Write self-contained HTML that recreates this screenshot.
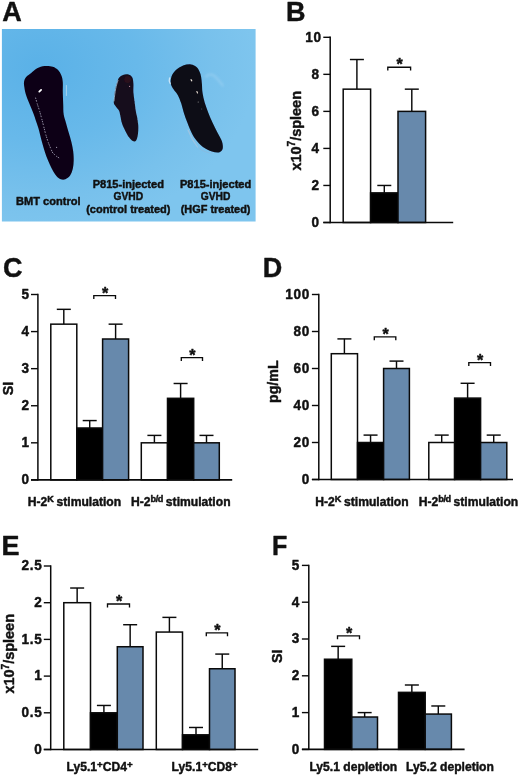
<!DOCTYPE html>
<html><head><meta charset="utf-8"><title>Figure</title>
<style>
html,body{margin:0;padding:0;background:#fff;}
svg{display:block;}
text{font-family:"Liberation Sans", Arial, Helvetica, sans-serif;font-weight:bold;fill:#111;stroke:#111;stroke-width:0.45px;stroke-linejoin:round;}
</style></head><body>
<svg width="520" height="776" viewBox="0 0 520 776">
<defs>
<radialGradient id="bg" cx="0.15" cy="0.2" r="0.85">
<stop offset="0" stop-color="#5ab1e7"/><stop offset="0.45" stop-color="#68b9ea"/><stop offset="0.8" stop-color="#78c1ec"/><stop offset="1" stop-color="#7ec5ee"/>
</radialGradient>
<filter id="soft" x="-10%" y="-10%" width="120%" height="120%"><feGaussianBlur stdDeviation="0.7"/></filter>
<filter id="soft2" x="-30%" y="-30%" width="160%" height="160%"><feGaussianBlur stdDeviation="1.2"/></filter>
</defs>
<rect width="520" height="776" fill="#fff"/>

<text transform="translate(2.20,21.20) scale(1,1)" font-size="27" text-anchor="start" stroke-width="0.15">A</text>
<text transform="translate(286.00,21.20) scale(1,1)" font-size="27" text-anchor="start" stroke-width="0.15">B</text>
<text transform="translate(3.00,277.00) scale(1,1)" font-size="27" text-anchor="start" stroke-width="0.15">C</text>
<text transform="translate(262.80,277.20) scale(1,1)" font-size="27" text-anchor="start" stroke-width="0.15">D</text>
<text transform="translate(1.50,555.00) scale(1,1)" font-size="27" text-anchor="start" stroke-width="0.15">E</text>
<text transform="translate(272.00,555.30) scale(0.93,1)" font-size="27" text-anchor="start" stroke-width="0.15">F</text>
<rect x="1.9" y="29" width="253.7" height="192.5" fill="url(#bg)"/>
<g filter="url(#soft)">
<path d="M24.2,80.9 C24.6,79.3 25.2,78.1 26.4,76.8 C27.6,75.5 29.4,74.4 31.2,73.0 C33.0,71.6 35.0,69.5 37.2,68.3 C39.4,67.1 42.0,66.4 44.6,66.1 C47.2,65.8 50.5,66.0 52.7,66.7 C55.0,67.4 56.7,68.6 58.1,70.1 C59.5,71.6 60.6,73.5 61.4,75.5 C62.2,77.5 62.6,79.3 62.8,82.2 C63.0,85.1 62.7,89.4 62.8,93.0 C62.9,96.6 63.1,100.2 63.2,103.8 C63.4,107.4 63.2,111.3 63.7,114.5 C64.2,117.7 65.2,120.0 66.0,123.0 C66.8,126.0 67.8,129.3 68.7,132.5 C69.6,135.7 70.7,138.8 71.4,141.9 C72.2,145.0 72.8,148.2 73.2,151.3 C73.6,154.5 73.8,157.9 73.7,160.8 C73.6,163.7 73.4,166.3 72.8,168.8 C72.2,171.3 71.3,173.8 70.1,175.6 C68.9,177.3 67.0,178.7 65.4,179.3 C63.8,179.9 62.2,179.8 60.7,179.3 C59.2,178.8 57.8,177.5 56.6,176.2 C55.4,174.9 54.4,173.4 53.3,171.5 C52.2,169.6 51.0,167.3 49.9,164.8 C48.8,162.3 47.5,159.4 46.5,156.7 C45.5,154.0 44.7,151.5 43.8,148.6 C42.9,145.7 42.1,142.5 41.2,139.2 C40.3,135.8 39.4,131.6 38.5,128.5 C37.6,125.4 36.6,122.7 35.8,120.4 C35.0,118.1 34.6,116.6 33.8,114.5 C33.0,112.4 32.1,110.2 31.2,108.0 C30.3,105.8 29.4,103.8 28.5,101.5 C27.6,99.2 26.5,96.8 25.8,94.3 C25.1,91.8 24.5,88.5 24.2,86.3 C23.9,84.1 23.8,82.5 24.2,80.9 Z" fill="#0c0614"/>
<path d="M123.0,74.9 C124.5,74.4 127.0,74.1 128.5,74.6 C130.1,75.0 131.5,76.1 132.3,77.6 C133.1,79.1 133.2,81.1 133.4,83.6 C133.6,86.1 133.2,89.5 133.4,92.4 C133.6,95.3 134.1,98.2 134.5,101.1 C134.9,104.0 135.2,107.2 135.6,109.9 C136.0,112.7 136.8,114.9 137.2,117.6 C137.6,120.3 138.2,123.4 138.3,126.3 C138.4,129.2 138.2,132.7 137.8,135.1 C137.4,137.5 136.9,139.6 136.1,140.6 C135.3,141.6 134.1,141.6 132.9,141.1 C131.7,140.6 130.3,139.0 129.0,137.3 C127.7,135.6 126.4,133.1 125.2,130.7 C124.0,128.3 122.7,125.5 121.9,123.0 C121.1,120.5 120.8,117.4 120.3,115.4 C119.8,113.4 119.8,112.4 119.2,111.0 C118.6,109.6 117.3,108.5 116.4,107.2 C115.5,105.9 114.3,105.0 113.9,103.3 C113.5,101.6 114.0,99.2 114.2,96.8 C114.4,94.4 114.8,91.5 115.3,89.1 C115.8,86.7 116.3,84.4 117.0,82.5 C117.7,80.6 118.2,78.9 119.2,77.6 C120.2,76.3 121.5,75.4 123.0,74.9 Z" fill="#170a1a"/>
<path d="M171.5,76.6 C172.3,74.3 174.0,72.0 175.9,70.1 C177.8,68.2 180.6,66.4 183.1,65.4 C185.6,64.5 188.7,64.1 191.0,64.4 C193.3,64.7 195.2,65.7 196.8,67.3 C198.4,68.9 199.6,71.3 200.4,73.8 C201.2,76.3 201.5,79.3 201.8,82.4 C202.2,85.5 202.0,89.1 202.5,92.5 C203.0,95.9 203.7,99.2 204.7,102.6 C205.7,106.0 207.0,109.3 208.3,112.7 C209.6,116.1 211.0,119.4 212.6,122.8 C214.2,126.2 216.1,129.8 217.7,132.9 C219.3,136.0 221.2,138.8 222.0,141.5 C222.8,144.2 223.2,147.0 222.7,148.8 C222.2,150.6 220.9,151.9 219.1,152.4 C217.3,152.9 214.5,152.4 211.9,151.6 C209.3,150.8 205.9,149.2 203.3,147.3 C200.7,145.4 198.2,142.8 196.1,140.1 C194.0,137.4 192.4,134.3 191.0,131.4 C189.6,128.5 188.6,125.9 187.4,122.8 C186.2,119.7 184.9,116.1 183.8,112.7 C182.7,109.3 181.9,105.5 180.9,102.6 C179.9,99.7 179.2,97.6 178.0,95.4 C176.8,93.2 174.9,91.5 173.7,89.6 C172.5,87.7 171.2,86.0 170.8,83.8 C170.4,81.6 170.7,78.9 171.5,76.6 Z" fill="#0b0918"/>
</g>
<g filter="url(#soft)" stroke-linecap="round" fill="none">
<line x1="39.3" y1="91.6" x2="41.1" y2="89.9" stroke="#fff" stroke-width="1.8"/>
<path d="M35.6,98 L37.3,104 L39.6,111 L41.8,119 L43.6,126 L45.2,132.5 L46.8,138 L48.6,143.3 L50.5,148 L52.6,152.7 L56,156 L60,158.5" stroke="#cfcfe2" stroke-width="0.9" stroke-dasharray="0.6 1.9 0.9 2.6 0.5 1.6" opacity="0.75"/>
<circle cx="56.6" cy="147.3" r="0.6" fill="#ccd" stroke="none" opacity="0.8"/>
<line x1="66.4" y1="85.5" x2="66.4" y2="95.5" stroke="#dceffa" stroke-width="0.8" opacity="0.7"/>
<path d="M118,80.5 C116.2,85 115,91 114,101" stroke="#b9dcf3" stroke-width="0.9" opacity="0.75"/>
<ellipse cx="127.6" cy="79.5" rx="3.4" ry="3.6" fill="#34101a" stroke="none" opacity="0.65"/>
<circle cx="129.6" cy="86.4" r="0.6" fill="#c9a" stroke="none" opacity="0.85"/>
<path d="M134.6,100 L135.8,108 L137.4,116 L138.4,124" stroke="#8aa6c4" stroke-width="0.6" stroke-dasharray="0.6 2.2" opacity="0.6"/>
<path d="M169.6,78 C168.9,80 169.2,82 170.2,83.5" stroke="#d9ecfa" stroke-width="1.3" opacity="0.85"/>
<path d="M188,130 C190.5,136.5 193.5,142 197.5,147" stroke="#a7c6e0" stroke-width="1.2" opacity="0.8"/>
<path d="M199,148.5 C203,151.5 208,153 212,153.2" stroke="#8fb4d6" stroke-width="0.9" opacity="0.6"/>
<line x1="191" y1="79.6" x2="191.8" y2="80.9" stroke="#efe6da" stroke-width="1.1"/>
<line x1="196.9" y1="91.6" x2="197.5" y2="92.9" stroke="#efe2d6" stroke-width="1.1"/>
<circle cx="198.2" cy="101.9" r="0.5" fill="#aaa" stroke="none"/>
<circle cx="201.8" cy="109" r="0.4" fill="#889" stroke="none"/>
</g>
<path d="M206.2,76.6 C208,74 211.9,73.5 215,76.5 C218,79.5 220.5,82.5 222.7,85.3" stroke="#9bd0f2" stroke-width="2.6" opacity="0.55" fill="none" filter="url(#soft2)" stroke-linecap="round"/>
<text transform="translate(48.30,205.20) scale(0.98,1)" font-size="11.3" text-anchor="middle" fill="#0a1626">BMT control</text>
<text transform="translate(128.30,187.80) scale(0.98,1)" font-size="11.3" text-anchor="middle" fill="#0a1626">P815-injected</text>
<text transform="translate(128.30,199.70) scale(0.91,1)" font-size="11.3" text-anchor="middle" fill="#0a1626">GVHD</text>
<text transform="translate(128.30,212.70) scale(0.975,1)" font-size="11.3" text-anchor="middle" fill="#0a1626">(control treated)</text>
<text transform="translate(215.60,187.80) scale(0.98,1)" font-size="11.3" text-anchor="middle" fill="#0a1626">P815-injected</text>
<text transform="translate(215.60,199.70) scale(0.91,1)" font-size="11.3" text-anchor="middle" fill="#0a1626">GVHD</text>
<text transform="translate(215.60,212.70) scale(0.968,1)" font-size="11.3" text-anchor="middle" fill="#0a1626">(HGF treated)</text>
<line x1="356.90" y1="89.16" x2="356.90" y2="59.52" stroke="#0a0a0a" stroke-width="1.45"/>
<line x1="349.90" y1="59.52" x2="363.90" y2="59.52" stroke="#0a0a0a" stroke-width="1.45"/>
<rect x="343.20" y="89.16" width="27.40" height="133.34" fill="#fff" stroke="#0a0a0a" stroke-width="1.5"/>
<line x1="384.30" y1="192.87" x2="384.30" y2="185.46" stroke="#0a0a0a" stroke-width="1.45"/>
<line x1="377.30" y1="185.46" x2="391.30" y2="185.46" stroke="#0a0a0a" stroke-width="1.45"/>
<rect x="370.60" y="192.87" width="27.40" height="29.63" fill="#000" stroke="#0a0a0a" stroke-width="1.5"/>
<line x1="411.80" y1="111.38" x2="411.80" y2="89.16" stroke="#0a0a0a" stroke-width="1.45"/>
<line x1="404.80" y1="89.16" x2="418.80" y2="89.16" stroke="#0a0a0a" stroke-width="1.45"/>
<rect x="398.00" y="111.38" width="27.60" height="111.12" fill="#6789ac" stroke="#0a0a0a" stroke-width="1.5"/>
<line x1="330.20" y1="36.60" x2="330.20" y2="223.20" stroke="#0a0a0a" stroke-width="1.5"/>
<line x1="323.30" y1="222.50" x2="453.20" y2="222.50" stroke="#0a0a0a" stroke-width="1.6"/>
<line x1="323.30" y1="222.50" x2="330.20" y2="222.50" stroke="#0a0a0a" stroke-width="1.4"/>
<text transform="translate(319.10,226.80) scale(0.95,1)" font-size="14.3" text-anchor="end" letter-spacing="0">0</text>
<line x1="323.30" y1="185.46" x2="330.20" y2="185.46" stroke="#0a0a0a" stroke-width="1.4"/>
<text transform="translate(319.10,189.76) scale(0.95,1)" font-size="14.3" text-anchor="end" letter-spacing="0">2</text>
<line x1="323.30" y1="148.42" x2="330.20" y2="148.42" stroke="#0a0a0a" stroke-width="1.4"/>
<text transform="translate(319.10,152.72) scale(0.95,1)" font-size="14.3" text-anchor="end" letter-spacing="0">4</text>
<line x1="323.30" y1="111.38" x2="330.20" y2="111.38" stroke="#0a0a0a" stroke-width="1.4"/>
<text transform="translate(319.10,115.68) scale(0.95,1)" font-size="14.3" text-anchor="end" letter-spacing="0">6</text>
<line x1="323.30" y1="74.34" x2="330.20" y2="74.34" stroke="#0a0a0a" stroke-width="1.4"/>
<text transform="translate(319.10,78.64) scale(0.95,1)" font-size="14.3" text-anchor="end" letter-spacing="0">8</text>
<line x1="323.30" y1="37.30" x2="330.20" y2="37.30" stroke="#0a0a0a" stroke-width="1.4"/>
<text transform="translate(321.76,41.60) scale(0.95,1)" font-size="14.3" text-anchor="end" letter-spacing="0.7">10</text>
<polyline points="387.80,70.60 387.80,67.20 410.60,67.20 410.60,70.60" fill="none" stroke="#0a0a0a" stroke-width="1.35"/>
<text transform="translate(399.70,70.10) scale(1.0,1)" font-size="16" text-anchor="middle" stroke-width="0.2">*</text>
<text transform="translate(300.90,170.60) rotate(-90) scale(0.965,1)" font-size="15" text-anchor="start" >x10<tspan font-size="10.5" dy="-5.6">7</tspan><tspan dy="5.6">/spleen</tspan></text>
<line x1="63.80" y1="324.16" x2="63.80" y2="309.33" stroke="#0a0a0a" stroke-width="1.45"/>
<line x1="56.80" y1="309.33" x2="70.80" y2="309.33" stroke="#0a0a0a" stroke-width="1.45"/>
<rect x="50.80" y="324.16" width="26.00" height="155.74" fill="#fff" stroke="#0a0a0a" stroke-width="1.5"/>
<line x1="89.70" y1="427.99" x2="89.70" y2="420.57" stroke="#0a0a0a" stroke-width="1.45"/>
<line x1="82.70" y1="420.57" x2="96.70" y2="420.57" stroke="#0a0a0a" stroke-width="1.45"/>
<rect x="76.80" y="427.99" width="25.80" height="51.91" fill="#000" stroke="#0a0a0a" stroke-width="1.5"/>
<line x1="115.60" y1="339.00" x2="115.60" y2="324.16" stroke="#0a0a0a" stroke-width="1.45"/>
<line x1="108.60" y1="324.16" x2="122.60" y2="324.16" stroke="#0a0a0a" stroke-width="1.45"/>
<rect x="102.60" y="339.00" width="26.00" height="140.90" fill="#6789ac" stroke="#0a0a0a" stroke-width="1.5"/>
<line x1="154.40" y1="442.82" x2="154.40" y2="435.40" stroke="#0a0a0a" stroke-width="1.45"/>
<line x1="147.40" y1="435.40" x2="161.40" y2="435.40" stroke="#0a0a0a" stroke-width="1.45"/>
<rect x="141.30" y="442.82" width="26.20" height="37.08" fill="#fff" stroke="#0a0a0a" stroke-width="1.5"/>
<line x1="180.60" y1="398.32" x2="180.60" y2="383.49" stroke="#0a0a0a" stroke-width="1.45"/>
<line x1="173.60" y1="383.49" x2="187.60" y2="383.49" stroke="#0a0a0a" stroke-width="1.45"/>
<rect x="167.50" y="398.32" width="26.20" height="81.58" fill="#000" stroke="#0a0a0a" stroke-width="1.5"/>
<line x1="206.50" y1="442.82" x2="206.50" y2="435.40" stroke="#0a0a0a" stroke-width="1.45"/>
<line x1="199.50" y1="435.40" x2="213.50" y2="435.40" stroke="#0a0a0a" stroke-width="1.45"/>
<rect x="193.70" y="442.82" width="25.60" height="37.08" fill="#6789ac" stroke="#0a0a0a" stroke-width="1.5"/>
<line x1="37.90" y1="293.80" x2="37.90" y2="480.60" stroke="#0a0a0a" stroke-width="1.5"/>
<line x1="31.00" y1="479.90" x2="232.20" y2="479.90" stroke="#0a0a0a" stroke-width="1.6"/>
<line x1="31.00" y1="479.90" x2="37.90" y2="479.90" stroke="#0a0a0a" stroke-width="1.4"/>
<text transform="translate(29.00,484.20) scale(0.95,1)" font-size="14.3" text-anchor="end" letter-spacing="0">0</text>
<line x1="31.00" y1="442.82" x2="37.90" y2="442.82" stroke="#0a0a0a" stroke-width="1.4"/>
<text transform="translate(29.00,447.12) scale(0.95,1)" font-size="14.3" text-anchor="end" letter-spacing="0">1</text>
<line x1="31.00" y1="405.74" x2="37.90" y2="405.74" stroke="#0a0a0a" stroke-width="1.4"/>
<text transform="translate(29.00,410.04) scale(0.95,1)" font-size="14.3" text-anchor="end" letter-spacing="0">2</text>
<line x1="31.00" y1="368.66" x2="37.90" y2="368.66" stroke="#0a0a0a" stroke-width="1.4"/>
<text transform="translate(29.00,372.96) scale(0.95,1)" font-size="14.3" text-anchor="end" letter-spacing="0">3</text>
<line x1="31.00" y1="331.58" x2="37.90" y2="331.58" stroke="#0a0a0a" stroke-width="1.4"/>
<text transform="translate(29.00,335.88) scale(0.95,1)" font-size="14.3" text-anchor="end" letter-spacing="0">4</text>
<line x1="31.00" y1="294.50" x2="37.90" y2="294.50" stroke="#0a0a0a" stroke-width="1.4"/>
<text transform="translate(29.00,298.80) scale(0.95,1)" font-size="14.3" text-anchor="end" letter-spacing="0">5</text>
<polyline points="93.80,299.00 93.80,295.60 115.50,295.60 115.50,299.00" fill="none" stroke="#0a0a0a" stroke-width="1.35"/>
<text transform="translate(105.15,298.50) scale(1.0,1)" font-size="16" text-anchor="middle" stroke-width="0.2">*</text>
<polyline points="181.30,361.00 181.30,357.60 202.50,357.60 202.50,361.00" fill="none" stroke="#0a0a0a" stroke-width="1.35"/>
<text transform="translate(192.40,360.50) scale(1.0,1)" font-size="16" text-anchor="middle" stroke-width="0.2">*</text>
<text transform="translate(13.30,395.20) rotate(-90) scale(1.0,1)" font-size="14.2" text-anchor="start" >SI</text>
<text transform="translate(27.80,505.80) scale(0.995,1)" font-size="12.2" text-anchor="start" >H-2<tspan font-size="9.2" dy="-4.3">K</tspan><tspan dy="4.3" dx="-0.8"> stimulation</tspan></text>
<text transform="translate(131.00,505.80) scale(0.995,1)" font-size="12.2" text-anchor="start" >H-2<tspan font-size="9.2" dy="-4.3" letter-spacing="-0.45">b/d</tspan><tspan dy="4.3" dx="-0.4"> stimulation</tspan></text>
<line x1="344.40" y1="353.70" x2="344.40" y2="338.90" stroke="#0a0a0a" stroke-width="1.45"/>
<line x1="337.40" y1="338.90" x2="351.40" y2="338.90" stroke="#0a0a0a" stroke-width="1.45"/>
<rect x="331.30" y="353.70" width="26.20" height="125.80" fill="#fff" stroke="#0a0a0a" stroke-width="1.5"/>
<line x1="370.55" y1="442.50" x2="370.55" y2="435.10" stroke="#0a0a0a" stroke-width="1.45"/>
<line x1="363.55" y1="435.10" x2="377.55" y2="435.10" stroke="#0a0a0a" stroke-width="1.45"/>
<rect x="357.50" y="442.50" width="26.10" height="37.00" fill="#000" stroke="#0a0a0a" stroke-width="1.5"/>
<line x1="396.50" y1="368.50" x2="396.50" y2="361.10" stroke="#0a0a0a" stroke-width="1.45"/>
<line x1="389.50" y1="361.10" x2="403.50" y2="361.10" stroke="#0a0a0a" stroke-width="1.45"/>
<rect x="383.60" y="368.50" width="25.80" height="111.00" fill="#6789ac" stroke="#0a0a0a" stroke-width="1.5"/>
<line x1="441.70" y1="442.50" x2="441.70" y2="435.10" stroke="#0a0a0a" stroke-width="1.45"/>
<line x1="434.70" y1="435.10" x2="448.70" y2="435.10" stroke="#0a0a0a" stroke-width="1.45"/>
<rect x="428.80" y="442.50" width="25.80" height="37.00" fill="#fff" stroke="#0a0a0a" stroke-width="1.5"/>
<line x1="467.60" y1="398.10" x2="467.60" y2="383.30" stroke="#0a0a0a" stroke-width="1.45"/>
<line x1="460.60" y1="383.30" x2="474.60" y2="383.30" stroke="#0a0a0a" stroke-width="1.45"/>
<rect x="454.60" y="398.10" width="26.00" height="81.40" fill="#000" stroke="#0a0a0a" stroke-width="1.5"/>
<line x1="493.70" y1="442.50" x2="493.70" y2="435.10" stroke="#0a0a0a" stroke-width="1.45"/>
<line x1="486.70" y1="435.10" x2="500.70" y2="435.10" stroke="#0a0a0a" stroke-width="1.45"/>
<rect x="480.60" y="442.50" width="26.20" height="37.00" fill="#6789ac" stroke="#0a0a0a" stroke-width="1.5"/>
<line x1="318.80" y1="293.80" x2="318.80" y2="480.20" stroke="#0a0a0a" stroke-width="1.5"/>
<line x1="311.90" y1="479.50" x2="513.00" y2="479.50" stroke="#0a0a0a" stroke-width="1.6"/>
<line x1="311.90" y1="479.50" x2="318.80" y2="479.50" stroke="#0a0a0a" stroke-width="1.4"/>
<text transform="translate(309.20,483.80) scale(0.95,1)" font-size="14.3" text-anchor="end" letter-spacing="0">0</text>
<line x1="311.90" y1="442.50" x2="318.80" y2="442.50" stroke="#0a0a0a" stroke-width="1.4"/>
<text transform="translate(309.87,446.80) scale(0.95,1)" font-size="14.3" text-anchor="end" letter-spacing="0.7">20</text>
<line x1="311.90" y1="405.50" x2="318.80" y2="405.50" stroke="#0a0a0a" stroke-width="1.4"/>
<text transform="translate(309.87,409.80) scale(0.95,1)" font-size="14.3" text-anchor="end" letter-spacing="0.7">40</text>
<line x1="311.90" y1="368.50" x2="318.80" y2="368.50" stroke="#0a0a0a" stroke-width="1.4"/>
<text transform="translate(309.87,372.80) scale(0.95,1)" font-size="14.3" text-anchor="end" letter-spacing="0.7">60</text>
<line x1="311.90" y1="331.50" x2="318.80" y2="331.50" stroke="#0a0a0a" stroke-width="1.4"/>
<text transform="translate(309.87,335.80) scale(0.95,1)" font-size="14.3" text-anchor="end" letter-spacing="0.7">80</text>
<line x1="311.90" y1="294.50" x2="318.80" y2="294.50" stroke="#0a0a0a" stroke-width="1.4"/>
<text transform="translate(309.87,298.80) scale(0.95,1)" font-size="14.3" text-anchor="end" letter-spacing="0.7">100</text>
<polyline points="374.30,340.20 374.30,336.80 395.80,336.80 395.80,340.20" fill="none" stroke="#0a0a0a" stroke-width="1.35"/>
<text transform="translate(385.55,339.70) scale(1.0,1)" font-size="16" text-anchor="middle" stroke-width="0.2">*</text>
<polyline points="468.80,366.00 468.80,362.60 490.50,362.60 490.50,366.00" fill="none" stroke="#0a0a0a" stroke-width="1.35"/>
<text transform="translate(480.15,365.50) scale(1.0,1)" font-size="16" text-anchor="middle" stroke-width="0.2">*</text>
<text transform="translate(278.00,403.00) rotate(-90) scale(1.0,1)" font-size="14.2" text-anchor="start" >pg/mL</text>
<text transform="translate(315.30,505.80) scale(0.995,1)" font-size="12.2" text-anchor="start" >H-2<tspan font-size="9.2" dy="-4.3">K</tspan><tspan dy="4.3" dx="-0.8"> stimulation</tspan></text>
<text transform="translate(418.70,505.80) scale(0.995,1)" font-size="12.2" text-anchor="start" >H-2<tspan font-size="9.2" dy="-4.3" letter-spacing="-0.45">b/d</tspan><tspan dy="4.3" dx="-0.4"> stimulation</tspan></text>
<line x1="77.15" y1="602.70" x2="77.15" y2="588.02" stroke="#0a0a0a" stroke-width="1.45"/>
<line x1="70.15" y1="588.02" x2="84.15" y2="588.02" stroke="#0a0a0a" stroke-width="1.45"/>
<rect x="63.80" y="602.70" width="26.70" height="146.80" fill="#fff" stroke="#0a0a0a" stroke-width="1.5"/>
<line x1="103.90" y1="712.80" x2="103.90" y2="705.46" stroke="#0a0a0a" stroke-width="1.45"/>
<line x1="96.90" y1="705.46" x2="110.90" y2="705.46" stroke="#0a0a0a" stroke-width="1.45"/>
<rect x="90.50" y="712.80" width="26.80" height="36.70" fill="#000" stroke="#0a0a0a" stroke-width="1.5"/>
<line x1="130.15" y1="646.74" x2="130.15" y2="624.72" stroke="#0a0a0a" stroke-width="1.45"/>
<line x1="123.15" y1="624.72" x2="137.15" y2="624.72" stroke="#0a0a0a" stroke-width="1.45"/>
<rect x="117.30" y="646.74" width="25.70" height="102.76" fill="#6789ac" stroke="#0a0a0a" stroke-width="1.5"/>
<line x1="169.40" y1="632.06" x2="169.40" y2="617.38" stroke="#0a0a0a" stroke-width="1.45"/>
<line x1="162.40" y1="617.38" x2="176.40" y2="617.38" stroke="#0a0a0a" stroke-width="1.45"/>
<rect x="156.30" y="632.06" width="26.20" height="117.44" fill="#fff" stroke="#0a0a0a" stroke-width="1.5"/>
<line x1="196.00" y1="734.82" x2="196.00" y2="727.48" stroke="#0a0a0a" stroke-width="1.45"/>
<line x1="189.00" y1="727.48" x2="203.00" y2="727.48" stroke="#0a0a0a" stroke-width="1.45"/>
<rect x="182.50" y="734.82" width="27.00" height="14.68" fill="#000" stroke="#0a0a0a" stroke-width="1.5"/>
<line x1="222.25" y1="668.76" x2="222.25" y2="654.08" stroke="#0a0a0a" stroke-width="1.45"/>
<line x1="215.25" y1="654.08" x2="229.25" y2="654.08" stroke="#0a0a0a" stroke-width="1.45"/>
<rect x="209.50" y="668.76" width="25.50" height="80.74" fill="#6789ac" stroke="#0a0a0a" stroke-width="1.5"/>
<line x1="50.70" y1="565.30" x2="50.70" y2="750.20" stroke="#0a0a0a" stroke-width="1.5"/>
<line x1="43.80" y1="749.50" x2="258.20" y2="749.50" stroke="#0a0a0a" stroke-width="1.6"/>
<line x1="43.80" y1="749.50" x2="50.70" y2="749.50" stroke="#0a0a0a" stroke-width="1.4"/>
<text transform="translate(41.70,753.80) scale(0.95,1)" font-size="14.3" text-anchor="end" letter-spacing="0">0</text>
<line x1="43.80" y1="712.80" x2="50.70" y2="712.80" stroke="#0a0a0a" stroke-width="1.4"/>
<text transform="translate(42.37,717.10) scale(0.95,1)" font-size="14.3" text-anchor="end" letter-spacing="0.7">0.5</text>
<line x1="43.80" y1="676.10" x2="50.70" y2="676.10" stroke="#0a0a0a" stroke-width="1.4"/>
<text transform="translate(41.70,680.40) scale(0.95,1)" font-size="14.3" text-anchor="end" letter-spacing="0">1</text>
<line x1="43.80" y1="639.40" x2="50.70" y2="639.40" stroke="#0a0a0a" stroke-width="1.4"/>
<text transform="translate(42.37,643.70) scale(0.95,1)" font-size="14.3" text-anchor="end" letter-spacing="0.7">1.5</text>
<line x1="43.80" y1="602.70" x2="50.70" y2="602.70" stroke="#0a0a0a" stroke-width="1.4"/>
<text transform="translate(41.70,607.00) scale(0.95,1)" font-size="14.3" text-anchor="end" letter-spacing="0">2</text>
<line x1="43.80" y1="566.00" x2="50.70" y2="566.00" stroke="#0a0a0a" stroke-width="1.4"/>
<text transform="translate(42.37,570.30) scale(0.95,1)" font-size="14.3" text-anchor="end" letter-spacing="0.7">2.5</text>
<polyline points="107.50,607.40 107.50,604.00 129.50,604.00 129.50,607.40" fill="none" stroke="#0a0a0a" stroke-width="1.35"/>
<text transform="translate(119.00,606.90) scale(1.0,1)" font-size="16" text-anchor="middle" stroke-width="0.2">*</text>
<polyline points="206.30,636.20 206.30,632.80 227.50,632.80 227.50,636.20" fill="none" stroke="#0a0a0a" stroke-width="1.35"/>
<text transform="translate(217.40,635.70) scale(1.0,1)" font-size="16" text-anchor="middle" stroke-width="0.2">*</text>
<text transform="translate(14.20,693.60) rotate(-90) scale(0.965,1)" font-size="15" text-anchor="start" >x10<tspan font-size="10.5" dy="-5.6">7</tspan><tspan dy="5.6">/spleen</tspan></text>
<text transform="translate(66.50,771.00) scale(0.995,1)" font-size="12.2" text-anchor="start" >Ly5.1<tspan font-size="9.8" dy="-3.4">+</tspan><tspan dy="3.4">CD4</tspan><tspan font-size="9.8" dy="-3.4">+</tspan></text>
<text transform="translate(171.60,771.00) scale(0.995,1)" font-size="12.2" text-anchor="start" >Ly5.1<tspan font-size="9.8" dy="-3.4">+</tspan><tspan dy="3.4">CD8</tspan><tspan font-size="9.8" dy="-3.4">+</tspan></text>
<line x1="338.15" y1="659.24" x2="338.15" y2="646.36" stroke="#0a0a0a" stroke-width="1.45"/>
<line x1="331.15" y1="646.36" x2="345.15" y2="646.36" stroke="#0a0a0a" stroke-width="1.45"/>
<rect x="324.50" y="659.24" width="27.30" height="90.16" fill="#000" stroke="#0a0a0a" stroke-width="1.5"/>
<line x1="364.65" y1="717.02" x2="364.65" y2="712.60" stroke="#0a0a0a" stroke-width="1.45"/>
<line x1="357.65" y1="712.60" x2="371.65" y2="712.60" stroke="#0a0a0a" stroke-width="1.45"/>
<rect x="351.80" y="717.02" width="25.70" height="32.38" fill="#6789ac" stroke="#0a0a0a" stroke-width="1.5"/>
<line x1="411.85" y1="692.36" x2="411.85" y2="685.00" stroke="#0a0a0a" stroke-width="1.45"/>
<line x1="404.85" y1="685.00" x2="418.85" y2="685.00" stroke="#0a0a0a" stroke-width="1.45"/>
<rect x="398.50" y="692.36" width="26.70" height="57.04" fill="#000" stroke="#0a0a0a" stroke-width="1.5"/>
<line x1="438.30" y1="714.07" x2="438.30" y2="705.98" stroke="#0a0a0a" stroke-width="1.45"/>
<line x1="431.30" y1="705.98" x2="445.30" y2="705.98" stroke="#0a0a0a" stroke-width="1.45"/>
<rect x="425.20" y="714.07" width="26.20" height="35.33" fill="#6789ac" stroke="#0a0a0a" stroke-width="1.5"/>
<line x1="308.80" y1="564.70" x2="308.80" y2="750.10" stroke="#0a0a0a" stroke-width="1.5"/>
<line x1="301.90" y1="749.40" x2="464.60" y2="749.40" stroke="#0a0a0a" stroke-width="1.6"/>
<line x1="301.90" y1="749.40" x2="308.80" y2="749.40" stroke="#0a0a0a" stroke-width="1.4"/>
<text transform="translate(299.20,753.70) scale(0.95,1)" font-size="14.3" text-anchor="end" letter-spacing="0">0</text>
<line x1="301.90" y1="712.60" x2="308.80" y2="712.60" stroke="#0a0a0a" stroke-width="1.4"/>
<text transform="translate(299.20,716.90) scale(0.95,1)" font-size="14.3" text-anchor="end" letter-spacing="0">1</text>
<line x1="301.90" y1="675.80" x2="308.80" y2="675.80" stroke="#0a0a0a" stroke-width="1.4"/>
<text transform="translate(299.20,680.10) scale(0.95,1)" font-size="14.3" text-anchor="end" letter-spacing="0">2</text>
<line x1="301.90" y1="639.00" x2="308.80" y2="639.00" stroke="#0a0a0a" stroke-width="1.4"/>
<text transform="translate(299.20,643.30) scale(0.95,1)" font-size="14.3" text-anchor="end" letter-spacing="0">3</text>
<line x1="301.90" y1="602.20" x2="308.80" y2="602.20" stroke="#0a0a0a" stroke-width="1.4"/>
<text transform="translate(299.20,606.50) scale(0.95,1)" font-size="14.3" text-anchor="end" letter-spacing="0">4</text>
<line x1="301.90" y1="565.40" x2="308.80" y2="565.40" stroke="#0a0a0a" stroke-width="1.4"/>
<text transform="translate(299.20,569.70) scale(0.95,1)" font-size="14.3" text-anchor="end" letter-spacing="0">5</text>
<polyline points="337.50,639.20 337.50,635.80 359.50,635.80 359.50,639.20" fill="none" stroke="#0a0a0a" stroke-width="1.35"/>
<text transform="translate(349.00,638.70) scale(1.0,1)" font-size="16" text-anchor="middle" stroke-width="0.2">*</text>
<text transform="translate(282.30,663.00) rotate(-90) scale(1.0,1)" font-size="14.2" text-anchor="start" >SI</text>
<text transform="translate(309.40,770.70) scale(0.995,1)" font-size="12.2" text-anchor="start" >Ly5.1 depletion</text>
<text transform="translate(406.10,770.70) scale(0.995,1)" font-size="12.2" text-anchor="start" >Ly5.2 depletion</text>
</svg></body></html>
